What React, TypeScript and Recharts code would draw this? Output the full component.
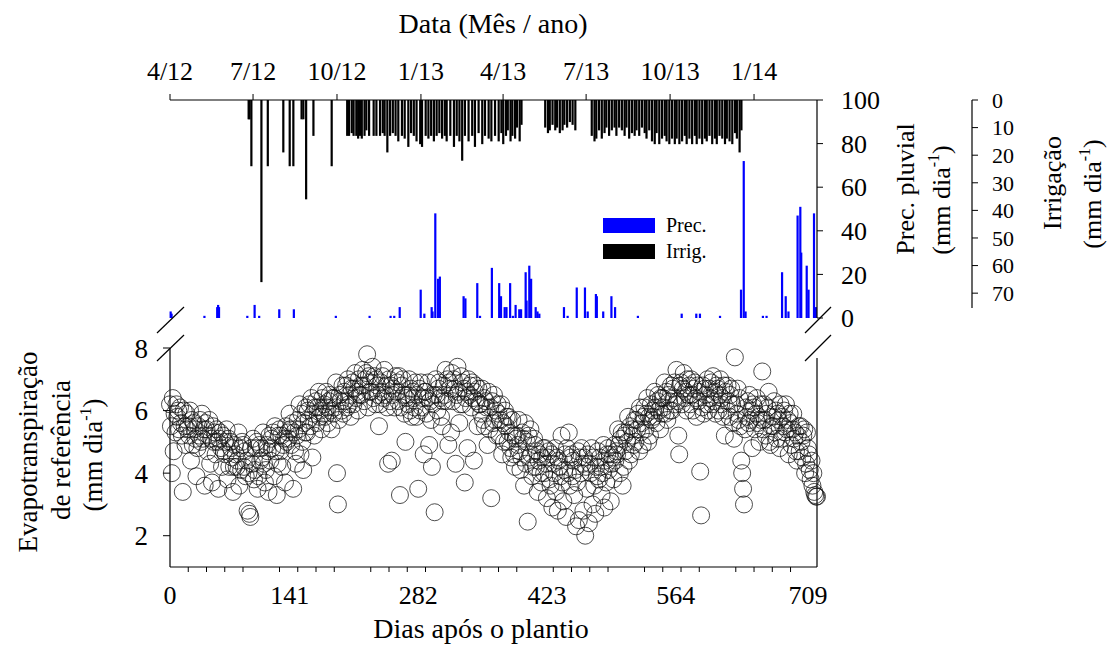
import { ComposedChart, Bar, XAxis, YAxis, Legend, ScatterChart, Scatter } from "recharts";

const FONT = '"Liberation Serif", "Times New Roman", Times, serif';

// Prec. pluvial: [dias após o plantio, mm dia-1]
const precipitacao: [number, number][] = [
  [1, 3], [2, 2], [38, 1], [52, 5], [53, 6], [54, 5], [85, 1], [93, 6], [98, 1], [120, 4],
  [136, 4], [182, 1], [219, 1], [242, 1], [246, 1], [252, 5], [275, 13], [279, 2], [287, 5], [288, 3],
  [291, 48], [294, 18], [296, 19], [322, 10], [324, 9], [337, 16], [340, 1], [353, 23], [361, 16], [363, 10],
  [367, 5], [369, 5], [373, 16], [376, 1], [379, 6], [383, 4], [385, 4], [390, 21], [391, 8], [394, 24],
  [396, 18], [401, 5], [403, 3], [405, 2], [432, 5], [436, 1], [446, 14], [455, 14], [458, 3], [467, 11],
  [468, 10], [475, 3], [484, 10], [488, 5], [513, 1], [561, 2], [577, 2], [581, 2], [603, 1], [626, 13],
  [629, 72], [631, 3], [650, 1], [654, 1], [671, 21], [675, 10], [678, 3], [688, 47], [691, 51], [692, 30],
  [698, 24], [700, 13], [706, 48], [708, 5],
];

// Irrigação: [dias após o plantio, mm dia-1]
const irrigacao: [number, number][] = [
  [86, 7], [87, 7], [89, 24], [100, 66], [107, 24], [124, 19], [131, 24], [135, 24], [144, 7], [146, 7],
  [149, 36], [157, 13], [177, 24],
  [194, 13], [196, 13], [199, 12], [201, 13], [204, 13], [206, 14], [208, 13], [210, 14], [213, 13], [215, 11],
  [218, 13], [223, 13], [226, 13], [230, 13], [233, 12], [235, 13], [238, 19], [241, 13], [244, 12], [247, 13],
  [250, 15], [254, 13], [257, 14], [261, 17], [264, 12], [267, 13], [270, 15], [274, 16], [276, 17], [280, 13],
  [283, 14], [286, 13], [289, 15], [292, 13], [295, 12], [298, 14], [301, 13], [303, 15], [307, 13], [311, 17],
  [314, 13], [317, 15], [320, 22], [323, 13], [327, 15], [331, 13], [334, 17], [338, 12], [342, 16], [345, 13],
  [349, 14], [352, 15], [356, 13], [360, 15], [363, 12], [365, 16], [368, 13], [370, 11], [373, 15], [375, 13],
  [378, 14], [380, 10], [383, 15], [385, 9],
  [411, 10], [414, 12], [416, 11], [419, 9], [422, 11], [424, 10], [427, 12], [430, 11], [432, 9], [435, 10],
  [438, 8], [441, 9], [444, 11],
  [462, 13], [465, 15], [467, 14], [470, 11], [473, 14], [476, 12], [478, 10], [481, 13], [484, 11], [487, 10],
  [489, 13], [492, 10], [495, 11], [498, 13], [500, 10], [503, 14], [506, 12], [509, 13], [511, 11], [514, 13],
  [517, 10], [520, 12], [522, 14], [525, 11], [528, 15], [531, 16], [533, 12], [536, 16], [539, 14], [542, 13],
  [544, 15], [547, 16], [550, 14], [553, 16], [555, 14], [558, 16], [561, 15], [564, 13], [566, 16], [569, 14],
  [572, 16], [575, 13], [577, 16], [580, 14], [583, 16], [586, 14], [588, 15], [591, 13], [594, 16], [597, 14],
  [599, 16], [602, 13], [605, 14], [608, 16], [610, 14], [613, 15], [616, 16], [619, 12], [621, 14], [624, 19],
  [626, 11],
];

// Evapotranspiração de referência (mm dia-1), um valor por dia, dia 0 a 709
const eto: number[] = [
  6.2, 5.5, 4.0, 6.4, 4.7, 5.9, 5.3, 6.2, 5.8, 6.0,
  5.4, 6.1, 5.6, 5.2, 3.4, 6.0, 5.5, 4.9, 5.9, 5.4,
  5.5, 5.2, 6.0, 4.4, 5.7, 4.9, 5.6, 5.4, 5.1, 3.9,
  4.8, 5.5, 5.2, 5.7, 5.0, 5.9, 5.1, 5.4, 3.6, 5.6,
  5.4, 4.7, 5.2, 5.7, 4.3, 5.1, 3.7, 5.5, 5.0, 5.3,
  4.6, 5.4, 5.0, 3.5, 5.1, 5.3, 4.8, 4.2, 5.2, 4.7,
  5.0, 4.6, 5.4, 3.8, 5.1, 4.2, 5.0, 4.8, 4.5, 3.4,
  4.2, 4.9, 4.6, 4.2, 4.4, 5.3, 3.6, 4.8, 4.1, 5.0,
  4.9, 4.2, 4.7, 3.9, 4.4, 2.8, 4.0, 2.7, 2.6, 4.8,
  4.3, 5.1, 3.8, 4.1, 4.8, 5.0, 3.5, 3.9, 4.9, 4.4,
  4.8, 4.5, 5.3, 4.3, 3.7, 4.1, 4.9, 4.7, 3.4, 5.2,
  4.4, 5.1, 4.8, 5.3, 3.9, 5.5, 4.7, 3.3, 4.3, 5.2,
  5.4, 4.7, 5.2, 4.2, 4.9, 5.1, 3.7, 5.5, 5.0, 5.3,
  5.1, 5.9, 5.4, 4.9, 5.6, 3.5, 5.3, 4.7, 4.3, 5.2,
  5.7, 5.4, 6.2, 4.6, 5.9, 5.0, 4.1, 5.6, 5.3, 6.1,
  5.3, 6.0, 5.7, 6.2, 5.5, 6.4, 4.5, 5.9, 5.2, 6.1,
  6.3, 5.6, 6.1, 6.6, 5.8, 6.0, 5.4, 6.4, 5.9, 6.2,
  5.8, 6.6, 6.1, 5.6, 6.3, 6.5, 6.0, 5.4, 6.4, 5.9,
  6.4, 6.1, 6.9, 4.0, 3.0, 5.7, 6.5, 6.3, 6.0, 6.8,
  5.9, 6.6, 6.3, 6.8, 6.1, 7.0, 6.2, 6.5, 5.8, 6.7,
  6.9, 6.2, 6.7, 7.2, 6.4, 6.6, 6.0, 7.0, 6.5, 6.8,
  6.5, 7.3, 6.8, 6.3, 7.0, 7.2, 7.8, 6.1, 7.1, 6.6,
  6.9, 6.6, 7.4, 6.4, 7.1, 6.2, 7.0, 6.8, 6.5, 5.5,
  6.2, 6.9, 6.6, 7.1, 6.4, 7.3, 6.5, 6.8, 6.1, 4.3,
  7.0, 6.3, 6.8, 4.4, 6.5, 6.7, 6.1, 7.1, 6.6, 6.9,
  6.3, 7.1, 3.3, 6.1, 6.8, 7.0, 6.5, 5.9, 5.0, 6.4,
  6.5, 6.2, 7.0, 6.0, 6.7, 5.8, 6.6, 6.4, 6.1, 6.9,
  5.8, 6.5, 3.5, 6.7, 6.0, 6.9, 6.1, 6.4, 4.6, 6.6,
  6.6, 5.9, 6.4, 6.9, 4.9, 6.3, 5.7, 4.2, 6.2, 6.5,
  2.75, 7.0, 6.5, 6.0, 6.7, 6.9, 6.4, 5.8, 5.5, 6.3,
  6.8, 6.5, 7.3, 6.3, 7.0, 4.9, 6.9, 6.7, 5.3, 7.2,
  6.3, 7.0, 6.7, 4.3, 6.5, 7.4, 6.6, 5.6, 6.2, 7.1,
  6.9, 6.2, 6.7, 3.7, 6.4, 6.6, 4.8, 7.0, 6.5, 6.8,
  6.1, 6.9, 6.4, 4.4, 6.6, 6.8, 6.3, 5.5, 6.7, 6.2,
  6.2, 5.9, 6.7, 5.7, 6.4, 5.5, 6.3, 6.1, 4.9, 6.6,
  5.4, 6.1, 3.2, 6.3, 5.6, 6.5, 5.7, 6.0, 5.2, 6.2,
  5.9, 5.2, 5.7, 6.2, 4.6, 5.6, 5.0, 6.0, 5.5, 5.8,
  5.0, 5.8, 5.3, 4.8, 4.5, 5.7, 5.2, 4.6, 4.2, 5.1,
  5.2, 4.9, 5.7, 4.7, 4.1, 4.5, 5.3, 5.1, 3.6, 5.6,
  4.3, 5.0, 2.45, 5.2, 4.5, 5.4, 4.6, 3.9, 4.2, 5.1,
  4.9, 4.2, 4.7, 3.4, 4.4, 4.6, 4.0, 3.7, 4.5, 4.8,
  4.0, 4.8, 4.3, 3.2, 4.5, 4.7, 3.8, 3.6, 4.6, 2.9,
  4.3, 4.0, 4.8, 3.4, 4.5, 2.8, 4.4, 4.2, 3.9, 5.2,
  3.7, 3.1, 4.1, 4.6, 2.6, 4.8, 4.0, 5.3, 3.6, 4.5,
  4.6, 3.9, 4.4, 3.3, 4.1, 2.3, 3.7, 4.7, 2.5, 4.5,
  4.0, 4.8, 4.3, 2.8, 4.5, 2.0, 4.2, 3.5, 4.6, 2.4,
  4.3, 4.0, 4.8, 3.0, 4.5, 3.6, 2.7, 4.2, 3.9, 4.7,
  3.8, 4.5, 4.2, 3.3, 4.0, 4.9, 2.9, 4.4, 3.7, 4.6,
  4.8, 4.1, 4.6, 3.1, 4.3, 4.5, 3.8, 4.9, 4.4, 4.7,
  4.6, 5.4, 4.9, 4.0, 5.1, 5.3, 3.6, 4.2, 5.2, 4.7,
  5.3, 5.0, 5.8, 4.4, 5.5, 4.6, 5.4, 5.2, 4.9, 5.7,
  5.0, 5.7, 5.4, 5.9, 4.7, 6.1, 5.3, 5.6, 4.9, 5.8,
  6.1, 5.4, 5.9, 6.4, 5.0, 5.8, 5.2, 6.2, 5.7, 6.0,
  5.8, 6.6, 6.1, 5.6, 6.3, 6.5, 6.0, 5.4, 6.4, 5.9,
  6.4, 6.1, 6.9, 5.9, 6.6, 5.7, 6.5, 6.3, 6.0, 6.8,
  6.0, 6.7, 6.4, 6.9, 6.2, 7.3, 6.3, 5.2, 4.6, 6.8,
  6.9, 6.2, 6.7, 7.2, 6.4, 6.6, 6.0, 7.0, 6.5, 6.8,
  6.2, 7.0, 6.5, 6.0, 6.7, 6.9, 6.4, 5.8, 6.8, 6.3,
  6.6, 4.05, 2.65, 6.1, 6.8, 5.9, 6.7, 6.5, 6.2, 7.0,
  6.0, 6.7, 6.4, 6.9, 6.2, 7.1, 6.3, 6.6, 5.9, 6.8,
  6.7, 6.0, 6.5, 7.0, 6.2, 6.4, 5.8, 6.8, 5.2, 6.6,
  6.0, 6.8, 6.3, 5.8, 6.5, 6.7, 6.2, 5.6, 5.1, 7.7,
  6.2, 5.9, 6.7, 5.7, 6.4, 5.5, 4.4, 4.0, 3.5, 3.0,
  5.4, 6.1, 5.8, 6.3, 5.6, 6.5, 5.7, 6.0, 4.8, 6.2,
  6.1, 5.4, 5.9, 6.4, 5.6, 5.8, 5.0, 6.2, 5.7, 7.25,
  5.4, 6.2, 5.7, 5.2, 5.9, 6.1, 6.6, 5.0, 4.9, 5.5,
  5.8, 5.5, 6.3, 5.3, 6.0, 5.1, 5.9, 5.7, 4.8, 6.2,
  5.1, 5.8, 5.5, 6.0, 5.3, 6.2, 5.4, 5.7, 4.6, 5.9,
  5.6, 4.9, 5.4, 5.9, 5.1, 5.3, 4.7, 4.4, 5.2, 5.5,
  4.7, 5.5, 5.0, 4.5, 5.2, 5.4, 4.0, 4.3, 5.3, 4.8,
  4.6, 4.1, 3.8, 4.4, 3.6, 4.0, 3.4, 3.3, 3.25, 3.25,
];

const mesesDias = [0, 91, 183, 275, 365, 456, 548, 640];
const mesesRotulos = ["4/12", "7/12", "10/12", "1/13", "4/13", "7/13", "10/13", "1/14"];
const diasRotulos = [0, 141, 282, 423, 564, 709];
const diasMarcas = [20, 40, 60, 80, 120, 140, 160, 180, 220, 240, 260, 280, 320, 340, 360, 380,
  420, 440, 460, 480, 520, 540, 560, 580, 620, 640, 660, 680];
const precTicks = [0, 20, 40, 60, 80, 100];
const irrigTicks = [0, 10, 20, 30, 40, 50, 60, 70];
const etoTicks = [2, 4, 6, 8];
const ordemLegenda = ["Prec.", "Irrig."];

const precMap = new Map(precipitacao);
const irrigMap = new Map(irrigacao);
const barRows = Array.from({ length: 710 }, (_, day) => ({
  day,
  prec: precMap.get(day) ?? null,
  irrig: irrigMap.get(day) ?? null,
}));
const etoRows = eto.map((v, day) => ({ day, eto: v }));
const diasTicks = [...diasRotulos, ...diasMarcas].sort((a, b) => a - b);

const tickFont = { fill: "#000", fontSize: 26, fontFamily: FONT };

function DayTick(props: any) {
  const { x, y, payload } = props;
  const v = payload.value;
  if (diasRotulos.includes(v)) {
    return (
      <text x={x - (v === 0 ? 0 : 9)} y={y + 37} textAnchor="middle" fontSize={26} fontFamily={FONT} fill="#000">
        {v}
      </text>
    );
  }
  return <line x1={x} y1={y} x2={x} y2={y + 5} stroke="#000" strokeWidth={1} />;
}

function ThinBar(props: any) {
  const { x, y, width, height, fill } = props;
  if (x == null || y == null || !height) return null;
  const top = Math.min(y, y + height);
  return <rect x={x + width / 2 - 1.1} y={top} width={2.2} height={Math.abs(height)} fill={fill} />;
}

function LegendBox(props: any) {
  const items = [...(props.payload ?? [])].sort(
    (a: any, b: any) => ordemLegenda.indexOf(a.value) - ordemLegenda.indexOf(b.value)
  );
  return (
    <div style={{ fontFamily: FONT, fontSize: 20, color: "#000" }}>
      {items.map((it: any) => (
        <div key={it.value} style={{ display: "flex", alignItems: "center", height: 26 }}>
          <span style={{ display: "inline-block", width: 52, height: 15, background: it.color, marginRight: 11 }} />
          <span>{it.value}</span>
        </div>
      ))}
    </div>
  );
}

function Circle(props: any) {
  return <circle cx={props.cx} cy={props.cy} r={8.5} fill="none" stroke="#111" strokeWidth={0.75} />;
}

function Rot(props: { x: number; y: number; children: any; size?: number }) {
  const { x, y, children, size = 27 } = props;
  return (
    <text x={x} y={y} transform={`rotate(-90 ${x} ${y})`} textAnchor="middle" fontSize={size} fontFamily={FONT} fill="#000">
      {children}
    </text>
  );
}

const unidade = (
  <>
    (mm dia<tspan dy={-11} fontSize={16}>-1</tspan>
    <tspan dy={11}>)</tspan>
  </>
);

export default function App() {
  const axisLine = { stroke: "#000", strokeWidth: 1.2 };
  return (
    <div style={{ position: "relative", width: 1114, height: 646, background: "#fff", fontFamily: FONT }}>
      <style>{"body{margin:0;background:#fff}"}</style>

      <div style={{ position: "absolute", left: 0, top: 0 }}>
        <ComposedChart width={1114} height={345} data={barRows} margin={{ top: 0, right: 0, bottom: 27, left: 170 }}>
          <XAxis
            xAxisId="mes"
            dataKey="day"
            type="number"
            orientation="top"
            domain={[0, 709]}
            ticks={mesesDias}
            interval={0}
            tickFormatter={(v: number) => mesesRotulos[mesesDias.indexOf(v)]}
            height={100}
            tickSize={6}
            tickMargin={14}
            stroke="#000"
            axisLine={axisLine}
            tick={tickFont}
          />
          <XAxis xAxisId="day" dataKey="day" type="number" domain={[0, 709]} height={0} tick={false} tickLine={false} axisLine={axisLine} />
          <YAxis yAxisId="frame" orientation="left" type="number" domain={[0, 1]} width={0} tick={false} tickLine={false} axisLine={axisLine} />
          <YAxis
            yAxisId="a-prec"
            orientation="right"
            type="number"
            domain={[0, 100]}
            ticks={precTicks}
            interval={0}
            width={155}
            tickSize={6}
            tickMargin={18}
            stroke="#000"
            axisLine={axisLine}
            tick={tickFont}
          />
          <YAxis
            yAxisId="b-irrig"
            orientation="right"
            type="number"
            reversed
            domain={[0, 79]}
            ticks={irrigTicks}
            interval={0}
            width={142}
            tickSize={6}
            tickMargin={14}
            stroke="#000"
            axisLine={{ stroke: "#000", strokeWidth: 1.2, strokeDasharray: "208 400" }}
            tick={{ fill: "#000", fontSize: 22, fontFamily: FONT }}
          />
          <Bar dataKey="prec" name="Prec." xAxisId="day" yAxisId="a-prec" fill="#0000ff" barSize={2} shape={ThinBar} isAnimationActive={false} />
          <Bar dataKey="irrig" name="Irrig." xAxisId="day" yAxisId="b-irrig" fill="#000" barSize={2} shape={ThinBar} isAnimationActive={false} />
          <Legend
            layout="horizontal"
            align="center"
            verticalAlign="middle"
            content={LegendBox}
            wrapperStyle={{ left: 603, top: 212, width: "auto" }}
          />
        </ComposedChart>
      </div>

      <div style={{ position: "absolute", left: 0, top: 330 }}>
        <ScatterChart width={1114} height={316} margin={{ top: 18, right: 296, bottom: 0, left: 0 }}>
          <XAxis
            dataKey="day"
            type="number"
            domain={[0, 709]}
            ticks={diasTicks}
            interval={0}
            height={79}
            tickLine={false}
            tickSize={0}
            tickMargin={0}
            axisLine={axisLine}
            tick={DayTick}
          />
          <YAxis
            yAxisId="eto"
            dataKey="eto"
            type="number"
            domain={[1, 8]}
            ticks={etoTicks}
            interval={0}
            width={170}
            tickSize={7}
            tickMargin={15}
            stroke="#000"
            axisLine={axisLine}
            tick={{ ...tickFont, fontSize: 27 }}
          />
          <YAxis
            yAxisId="frame"
            orientation="right"
            type="number"
            domain={[0, 1]}
            width={1}
            tick={false}
            tickLine={false}
            axisLine={{ stroke: "#000", strokeWidth: 1.2, strokeDasharray: "0 10 300" }}
          />
          <Scatter data={etoRows} yAxisId="eto" shape={Circle} isAnimationActive={false} />
        </ScatterChart>
      </div>

      <svg width={1114} height={646} style={{ position: "absolute", left: 0, top: 0, pointerEvents: "none" }}>
        <text x={493} y={33} textAnchor="middle" fontSize={28} fontFamily={FONT} fill="#000">Data (Mês / ano)</text>
        <text x={481} y={638} textAnchor="middle" fontSize={28} fontFamily={FONT} fill="#000">Dias após o plantio</text>

        <Rot x={37} y={452}>Evapotranspiração</Rot>
        <Rot x={70} y={450}>de referência</Rot>
        <Rot x={102} y={455}>{unidade}</Rot>

        <Rot x={914} y={189} size={26}>Prec. pluvial</Rot>
        <Rot x={950} y={200} size={26}>{unidade}</Rot>
        <Rot x={1061} y={183} size={26}>Irrigação</Rot>
        <Rot x={1101} y={194} size={26}>{unidade}</Rot>

        <g stroke="#000" strokeWidth={1.2}>
          <line x1={157} y1={333} x2={184} y2={307} />
          <line x1={805} y1={333} x2={831} y2={307} />
          <line x1={157} y1={361} x2={184} y2={335} />
          <line x1={805} y1={361} x2={831} y2={335} />
        </g>
      </svg>
    </div>
  );
}
